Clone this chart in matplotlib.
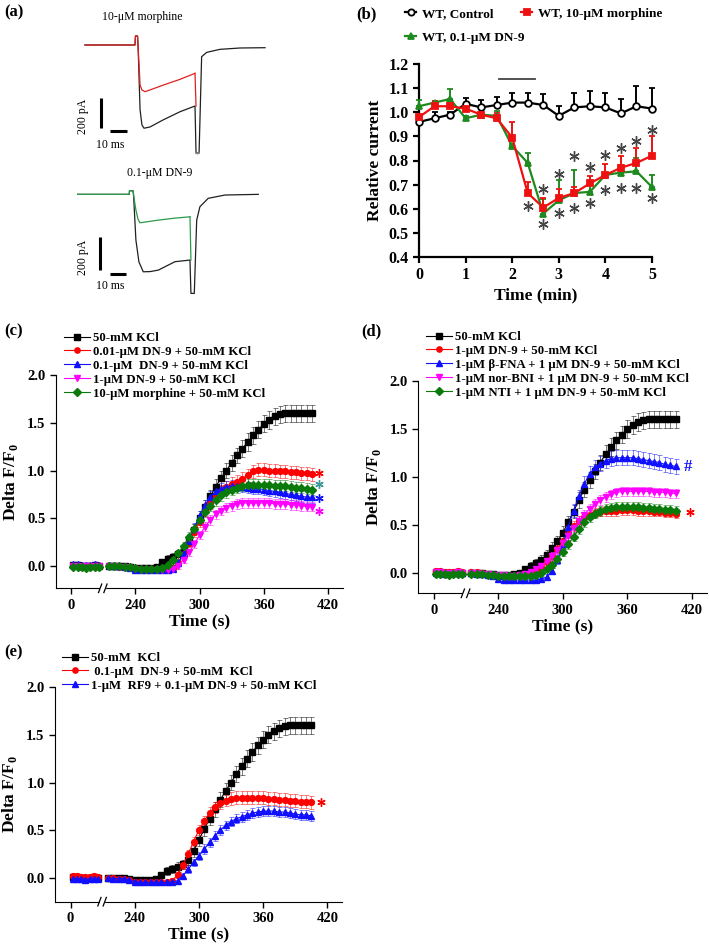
import matplotlib.pyplot as plt
import numpy as np
from matplotlib.lines import Line2D
from matplotlib.patches import Rectangle

plt.rcParams['font.family'] = ['Liberation Serif', 'DejaVu Serif']
plt.rcParams['mathtext.fontset'] = 'custom'
plt.rcParams['mathtext.rm'] = 'Liberation Serif'
plt.rcParams['mathtext.bf'] = 'Liberation Serif:bold'

W, H = 709, 944

# ---------------- (a) current traces: time (ms), current (pA)
morph_black_t = [0, 29.4, 29.7, 30.9, 31.2, 32.4, 33.5, 34.7, 38.2, 45.9, 55.9, 64.7,
                 65.3, 67.1, 68.6, 71.6, 79.4, 91.2, 105.9]
morph_black_i = [0, 0, 60, 60, 0, -433, -533, -555, -547, -500, -445, -407,
                 -720, -720, -78, -49, -29, -20, -18]
morph_red_t = [0, 29.4, 29.7, 30.9, 31.2, 32.4, 33.5, 35.3, 38.2, 46.1, 55.9, 64.7, 65.3]
morph_red_i = [0, 0, 60, 60, 0, -267, -300, -311, -300, -267, -229, -189, -700]

dn9_black_t = [0, 32.25, 32.4, 34.6, 34.9, 36.4, 38.3, 41.0, 45.2, 50.4, 60.8, 70.2,
               70.8, 72.9, 74.4, 76.4, 81.6, 92.1, 112.9]
dn9_black_i = [0, 0, 22, 22, 0, -277, -410, -469, -468, -459, -408, -398,
               -600, -600, -156, -75, -24, -4, 0]
dn9_green_t = [0, 32.25, 32.4, 34.6, 34.9, 36.4, 37.7, 38.9, 42.1, 50.4, 60.8, 70.2, 70.8]
dn9_green_i = [0, 0, 22, 22, 0, -95, -150, -172, -168, -156, -144, -136, -560]

# ---------------- (b) relative current
tb = [0, 0.333, 0.667, 1, 1.333, 1.667, 2, 2.333, 2.667, 3, 3.333, 3.667, 4, 4.333, 4.667, 5]
ctrl = [0.96, 0.975, 0.99, 1.035, 1.02, 1.03, 1.04, 1.04, 1.03, 0.985, 1.02, 1.025, 1.02, 0.995, 1.025, 1.015]
ctrl_err = [0.005, 0.025, 0.01, 0.025, 0.03, 0.035, 0.04, 0.04, 0.045, 0.04, 0.06, 0.065, 0.06, 0.06, 0.085, 0.085]
morph = [0.98, 1.025, 1.025, 1.015, 0.99, 0.975, 0.895, 0.665, 0.605, 0.645, 0.665, 0.705, 0.74, 0.77, 0.79, 0.82]
morph_err = [0.01, 0.02, 0.01, 0.01, 0.01, 0.02, 0.065, 0.045, 0.04, 0.035, 0.025, 0.03, 0.045, 0.05, 0.06, 0.08]
dn9 = [1.025, 1.04, 1.055, 0.975, 0.99, 0.985, 0.86, 0.79, 0.58, 0.635, 0.665, 0.67, 0.74, 0.75, 0.755, 0.69]
dn9_err = [0.025, 0.005, 0.04, 0.01, 0.005, 0.02, 0.01, 0.04, 0.06, 0.085, 0.095, 0.03, 0.01, 0.03, 0.055, 0.05]
star_up_t = [2.667, 3, 3.333, 3.667, 4, 4.333, 4.667, 5]
star_up_y = [0.682, 0.742, 0.82, 0.775, 0.822, 0.853, 0.88, 0.928]
star_dn_t = [2.333, 2.667, 3, 3.333, 3.667, 4, 4.333, 4.667, 5]
star_dn_y = [0.612, 0.536, 0.582, 0.604, 0.625, 0.679, 0.686, 0.687, 0.644]
drug_bar_t = [1.71, 2.49]
drug_bar_y = [1.137, 1.137]

# ---------------- (c)-(e) calcium imaging, time (s)
t_left = np.arange(2, 27, 4)
t_right = np.arange(215, 406, 5)

c_kcl = [0.00, 0.00, 0.00, 0.00, -0.01, -0.02, -0.02, -0.02, -0.02, -0.01,
         0.04, 0.07, 0.09, 0.12, 0.18, 0.27, 0.38, 0.50, 0.62, 0.73,
         0.83, 0.92, 1.00, 1.08, 1.16, 1.23, 1.30, 1.37, 1.43, 1.49,
         1.53, 1.57, 1.59, 1.60, 1.60, 1.60, 1.60, 1.60, 1.60]
c_kcl_err = [0.02, 0.02, 0.02, 0.02, 0.02, 0.02, 0.02, 0.02, 0.02, 0.02,
             0.03, 0.04, 0.04, 0.05, 0.05, 0.06, 0.06, 0.07, 0.07, 0.07,
             0.08, 0.08, 0.08, 0.08, 0.08, 0.09, 0.09, 0.09, 0.09, 0.09,
             0.09, 0.09, 0.09, 0.09, 0.09, 0.09, 0.09, 0.09, 0.09]
c_dn001 = [0.00, 0.00, -0.01, -0.01, -0.01, -0.02, -0.03, -0.03, -0.03, -0.03,
           -0.03, -0.03, -0.02, 0.03, 0.12, 0.24, 0.35, 0.46, 0.57, 0.66,
           0.73, 0.79, 0.83, 0.86, 0.88, 0.91, 0.95, 0.99, 1.01, 1.01,
           1.00, 1.00, 0.99, 0.99, 0.98, 0.98, 0.97, 0.97, 0.96]
c_dn001_err = [0.02, 0.02, 0.02, 0.02, 0.02, 0.02, 0.02, 0.02, 0.02, 0.02,
               0.02, 0.02, 0.03, 0.03, 0.04, 0.04, 0.05, 0.05, 0.05, 0.06,
               0.06, 0.06, 0.06, 0.07, 0.07, 0.07, 0.07, 0.07, 0.07, 0.07,
               0.07, 0.07, 0.07, 0.07, 0.07, 0.07, 0.07, 0.07, 0.07]
c_dn01 = [0.01, 0.00, 0.00, -0.01, -0.02, -0.04, -0.05, -0.05, -0.05, -0.05,
          -0.05, -0.05, -0.03, 0.03, 0.13, 0.26, 0.40, 0.53, 0.64, 0.72,
          0.78, 0.81, 0.83, 0.84, 0.84, 0.83, 0.82, 0.81, 0.81, 0.80,
          0.79, 0.78, 0.77, 0.76, 0.75, 0.74, 0.73, 0.72, 0.72]
c_dn01_err = [0.02, 0.02, 0.02, 0.02, 0.02, 0.02, 0.02, 0.02, 0.02, 0.02,
              0.02, 0.02, 0.03, 0.03, 0.04, 0.04, 0.05, 0.05, 0.05, 0.06,
              0.06, 0.06, 0.06, 0.06, 0.06, 0.06, 0.06, 0.06, 0.06, 0.06,
              0.06, 0.06, 0.06, 0.06, 0.06, 0.06, 0.06, 0.06, 0.06]
c_dn1 = [0.00, 0.00, -0.01, -0.01, -0.02, -0.03, -0.04, -0.04, -0.04, -0.04,
         -0.04, -0.04, -0.03, 0.00, 0.06, 0.14, 0.23, 0.32, 0.41, 0.48,
         0.54, 0.58, 0.61, 0.63, 0.65, 0.66, 0.66, 0.66, 0.66, 0.66,
         0.66, 0.65, 0.65, 0.65, 0.64, 0.64, 0.63, 0.62, 0.62]
c_dn1_err = [0.02, 0.02, 0.02, 0.02, 0.02, 0.02, 0.02, 0.02, 0.02, 0.02,
             0.02, 0.02, 0.02, 0.03, 0.03, 0.04, 0.04, 0.04, 0.05, 0.05,
             0.05, 0.05, 0.05, 0.05, 0.05, 0.05, 0.05, 0.05, 0.05, 0.05,
             0.05, 0.05, 0.05, 0.05, 0.05, 0.05, 0.05, 0.05, 0.05]
c_mor = [0.00, 0.00, 0.00, -0.01, -0.01, -0.02, -0.03, -0.03, -0.03, -0.03,
         -0.02, 0.01, 0.06, 0.13, 0.21, 0.30, 0.39, 0.48, 0.56, 0.63,
         0.69, 0.74, 0.77, 0.80, 0.82, 0.84, 0.85, 0.85, 0.85, 0.85,
         0.85, 0.84, 0.84, 0.84, 0.83, 0.82, 0.82, 0.81, 0.80]
c_mor_err = [0.02, 0.02, 0.02, 0.02, 0.02, 0.02, 0.02, 0.02, 0.02, 0.02,
             0.02, 0.03, 0.03, 0.04, 0.04, 0.05, 0.05, 0.05, 0.05, 0.06,
             0.06, 0.06, 0.06, 0.06, 0.06, 0.06, 0.06, 0.06, 0.06, 0.06,
             0.06, 0.06, 0.06, 0.06, 0.06, 0.06, 0.06, 0.06, 0.06]

d_kcl = [0.00, 0.00, 0.00, -0.01, -0.01, -0.02, -0.02, -0.02, -0.01, 0.00,
         0.04, 0.08, 0.11, 0.14, 0.19, 0.26, 0.33, 0.42, 0.53, 0.64,
         0.76, 0.87, 0.97, 1.06, 1.15, 1.24, 1.31, 1.38, 1.44, 1.50,
         1.54, 1.57, 1.59, 1.60, 1.60, 1.60, 1.60, 1.60, 1.60]
d_dn1 = [0.01, 0.01, 0.00, -0.01, -0.02, -0.03, -0.03, -0.03, -0.03, -0.03,
         -0.02, 0.00, 0.03, 0.07, 0.12, 0.18, 0.25, 0.33, 0.42, 0.49,
         0.54, 0.58, 0.61, 0.63, 0.64, 0.65, 0.65, 0.65, 0.66, 0.66,
         0.66, 0.65, 0.65, 0.65, 0.64, 0.64, 0.63, 0.63, 0.62]
d_fna = [0.00, -0.01, -0.01, -0.02, -0.03, -0.06, -0.07, -0.07, -0.07, -0.07,
         -0.07, -0.07, -0.07, -0.06, -0.04, 0.02, 0.14, 0.30, 0.48, 0.65,
         0.80, 0.93, 1.03, 1.10, 1.14, 1.17, 1.19, 1.20, 1.20, 1.20,
         1.20, 1.19, 1.18, 1.17, 1.16, 1.15, 1.13, 1.12, 1.11]
d_fna_err = [0.02, 0.02, 0.02, 0.02, 0.02, 0.02, 0.02, 0.02, 0.02, 0.02,
             0.02, 0.02, 0.02, 0.02, 0.03, 0.03, 0.04, 0.05, 0.06, 0.07,
             0.07, 0.08, 0.08, 0.08, 0.08, 0.08, 0.08, 0.08, 0.08, 0.08,
             0.08, 0.08, 0.08, 0.08, 0.08, 0.08, 0.08, 0.08, 0.08]
d_bni = [0.00, 0.00, -0.01, -0.01, -0.02, -0.02, -0.02, -0.03, -0.03, -0.02,
         -0.01, 0.01, 0.04, 0.08, 0.13, 0.18, 0.24, 0.31, 0.39, 0.47,
         0.54, 0.61, 0.67, 0.72, 0.76, 0.79, 0.82, 0.84, 0.85, 0.85,
         0.85, 0.85, 0.85, 0.85, 0.84, 0.84, 0.84, 0.83, 0.83]
d_nti = [-0.01, -0.01, -0.01, -0.02, -0.02, -0.03, -0.03, -0.03, -0.03, -0.03,
         -0.03, -0.03, -0.02, 0.00, 0.04, 0.09, 0.15, 0.22, 0.30, 0.38,
         0.46, 0.53, 0.58, 0.62, 0.65, 0.67, 0.68, 0.69, 0.69, 0.69,
         0.69, 0.69, 0.68, 0.68, 0.67, 0.67, 0.66, 0.66, 0.65]

e_kcl = [0.00, 0.00, 0.00, 0.00, -0.01, -0.02, -0.02, -0.02, -0.02, -0.01,
         0.03, 0.07, 0.09, 0.11, 0.14, 0.19, 0.28, 0.40, 0.51, 0.62,
         0.72, 0.82, 0.91, 1.00, 1.09, 1.17, 1.25, 1.32, 1.39, 1.45,
         1.50, 1.54, 1.57, 1.59, 1.60, 1.60, 1.60, 1.60, 1.60]
e_dn01 = [0.00, 0.00, -0.01, -0.01, -0.02, -0.04, -0.05, -0.05, -0.05, -0.05,
          -0.05, -0.05, -0.03, 0.03, 0.13, 0.25, 0.38, 0.50, 0.60, 0.68,
          0.74, 0.78, 0.81, 0.83, 0.84, 0.84, 0.84, 0.84, 0.84, 0.84,
          0.83, 0.83, 0.82, 0.82, 0.81, 0.81, 0.80, 0.80, 0.79]
e_rf9 = [0.00, -0.01, -0.01, -0.01, -0.02, -0.04, -0.05, -0.05, -0.05, -0.05,
         -0.05, -0.05, -0.05, -0.03, 0.02, 0.09, 0.16, 0.23, 0.30, 0.37,
         0.44, 0.50, 0.55, 0.59, 0.62, 0.64, 0.66, 0.68, 0.69, 0.70,
         0.70, 0.70, 0.69, 0.69, 0.68, 0.67, 0.66, 0.66, 0.65]

left_a = [0.01, 0.01, 0.00, 0.00, 0.00, 0.01, 0.00]
left_b = [0.00, 0.00, -0.01, 0.00, 0.00, 0.00, 0.00]
left_c = [0.02, 0.02, 0.01, 0.01, 0.01, 0.02, 0.01]
left_d = [-0.01, -0.01, -0.01, -0.02, -0.01, -0.01, -0.01]
left_err = [0.02, 0.02, 0.02, 0.02, 0.02, 0.02, 0.02]

BLACK, RED, BLUE, MAG, GREEN = 'black', '#ff0000', '#1010ff', '#ff00ff', '#0a7a0a'
SHIFT = 180  # seconds removed by the axis break

fig = plt.figure(figsize=(W / 100, H / 100), dpi=100)


def box(l, t, r, b):
    return [l / W, 1 - b / H, (r - l) / W, (b - t) / H]


def ftext(x, y, s, **kw):
    fig.text(x / W, 1 - y / H, s, **kw)


# ---------------- panel (a)
ax = fig.add_axes(box(70, 30, 270, 160))
ax.set_xlim(-8.8, 108.8)
ax.set_ylim(-767, 100)
ax.axis('off')
ax.plot(morph_black_t, morph_black_i, color='#202020', lw=0.9)
ax.plot(morph_red_t[:12], morph_red_i[:12], color='#e02020', lw=0.9)
ax.plot([64.7, 65.3], [-189, -407], color='#e02020', lw=0.9)
ax.plot([65.3, 66.2, 67.1], [-720, -725, -720], color='#888888', lw=1.2)
ax.plot([9.4, 9.4], [-353, -553], color='black', lw=2.2, solid_capstyle='butt')
ax.plot([14.7, 24.7], [-573, -573], color='black', lw=2.2, solid_capstyle='butt')
ax.text(-1.2, -473, '200 pA', rotation=90, ha='center', va='center', fontsize=8.5)
ax.text(15, -667, '10 ms', ha='center', va='center', fontsize=8.5)
ax.text(33.5, 187, '10-μM morphine', ha='center', va='center', fontsize=8.5)

ax = fig.add_axes(box(70, 180, 265, 300))
ax.set_xlim(-4.8, 117.1)
ax.set_ylim(-640, 87)
ax.axis('off')
ax.plot(dn9_black_t, dn9_black_i, color='#202020', lw=0.9)
ax.plot(dn9_green_t[:12], dn9_green_i[:12], color='#2a9a4a', lw=0.9)
ax.plot([70.2, 70.8], [-136, -398], color='#2a9a4a', lw=0.9)
ax.plot([13.9, 13.9], [-259, -459], color='black', lw=2.2, solid_capstyle='butt')
ax.plot([20.2, 30.2], [-483, -483], color='black', lw=2.2, solid_capstyle='butt')
ax.text(3.3, -380, '200 pA', rotation=90, ha='center', va='center', fontsize=8.5)
ax.text(20.5, -556, '10 ms', ha='center', va='center', fontsize=8.5)
ax.text(51.4, 129, '0.1-μM DN-9', ha='center', va='center', fontsize=8.5)

# ---------------- panel (b)
ax = fig.add_axes(box(419, 64, 652, 257))
star = (6, 2, 0)
for y, err, c, m, mfc, lab in [
        (ctrl, ctrl_err, 'black', 'o', 'white', 'WT, Control'),
        (dn9, dn9_err, '#1f8a1f', '^', '#1f8a1f', 'WT, 0.1-μM DN-9'),
        (morph, morph_err, '#ee1111', 's', '#ee1111', 'WT, 10-μM morphine')]:
    ax.errorbar(tb, y, yerr=[np.zeros(len(err)), err], color=c, lw=1.6,
                marker=m, ms=4.8, mfc=mfc, mec=c, mew=1.3, capsize=2.5,
                elinewidth=1.4, capthick=1.4, clip_on=False, zorder=3)
ax.plot(star_up_t, star_up_y, ls='none', marker=star, ms=7.5, mew=1.0,
        color='#454545', clip_on=False)
ax.plot(star_dn_t, star_dn_y, ls='none', marker=star, ms=7.5, mew=1.0,
        color='#454545', clip_on=False)
ax.plot(drug_bar_t, drug_bar_y, color='#444444', lw=1.3)
ax.set_xlim(0, 5)
ax.set_ylim(0.4, 1.2)
ax.set_xticks([0, 1, 2, 3, 4, 5])
ax.set_yticks(np.round(np.arange(0.4, 1.21, 0.1), 1))
ax.set_yticklabels(['%.1f' % v for v in ax.get_yticks()])
for s in ['top', 'right']:
    ax.spines[s].set_visible(False)
for s in ['left', 'bottom']:
    ax.spines[s].set_linewidth(1.6)
ax.tick_params(width=1.6, length=4, labelsize=11.5)
for lab in ax.get_xticklabels() + ax.get_yticklabels():
    lab.set_fontweight('bold')
ax.set_xlabel('Time (min)', fontsize=12.5, fontweight='bold', labelpad=3)
ax.set_ylabel('Relative current', fontsize=12.5, fontweight='bold', labelpad=4)

b_leg = [('WT, Control', 'black', 'o', 'white', 405, 14),
         ('WT, 10-μM morphine', '#ee1111', 's', '#ee1111', 521, 14),
         ('WT, 0.1-μM DN-9', '#1f8a1f', '^', '#1f8a1f', 405, 38)]
for lab, c, m, mfc, x, y in b_leg:
    h = Line2D([], [], color=c, marker=m, mfc=mfc, mec=c, mew=1.3, ms=4.5, lw=1.6)
    fig.legend([h], [lab], loc='center left', bbox_to_anchor=(x / W, 1 - y / H),
               frameon=False, borderpad=0, borderaxespad=0, handlelength=0.85,
               handletextpad=0.45, prop={'weight': 'bold', 'size': 9.5})


# ---------------- panels (c)-(e)
def kcl_panel(rect, ylim, series, leg_xy):
    ax = fig.add_axes(rect)
    handles, labels = [], []
    for lab, c, m, yl, yr, err in series:
        ax.errorbar(t_left, yl, yerr=left_err, color=c, marker=m, ms=4.2, lw=0.8,
                    elinewidth=0.6, capsize=1.8, capthick=0.6, ecolor=c)
        eb = ax.errorbar(t_right - SHIFT, yr, yerr=err, color=c, marker=m, ms=4.2,
                         lw=0.8, elinewidth=0.6, capsize=1.8, capthick=0.6)
        for art in eb[1] + eb[2]:
            art.set_alpha(0.6)
        handles.append(Line2D([], [], color=c, marker=m, ms=3.8, lw=0.8))
        labels.append(lab)
    ax.set_xlim(-14.5, 254)
    ax.set_ylim(*ylim)
    ax.set_xticks([0, 60, 120, 180, 240])
    ax.set_xticklabels(['0', '240', '300', '360', '420'])
    ax.set_yticks([0, 0.5, 1.0, 1.5, 2.0])
    ax.set_yticklabels(['0.0', '0.5', '1.0', '1.5', '2.0'])
    for s in ['top', 'right']:
        ax.spines[s].set_visible(False)
    ax.spines['left'].set_bounds(ylim[0], 2.0)
    ax.tick_params(width=1.0, length=4, labelsize=10.5)
    for t in ax.get_xticklabels() + ax.get_yticklabels():
        t.set_fontweight('bold')
    ax.set_xlabel('Time (s)', fontsize=12.5, fontweight='bold', labelpad=1)
    ax.set_ylabel(r'Delta F/F$_\mathbf{0}$', fontsize=12.5, fontweight='bold', labelpad=5)
    tr = ax.get_xaxis_transform()
    ax.add_patch(Rectangle((27.3, -0.02), 4.4, 0.04, transform=tr, color='white',
                           clip_on=False, zorder=5))
    for p in (27, 32):
        ax.plot([p - 1.5, p + 1.5], [-0.02, 0.02], transform=tr, color='black',
                lw=0.9, clip_on=False, zorder=6)
    fig.legend(handles, labels, loc='upper left',
               bbox_to_anchor=(leg_xy[0] / W, 1 - leg_xy[1] / H), frameon=False,
               borderpad=0, borderaxespad=0, handlelength=2.0, handletextpad=0.3,
               labelspacing=0.15, prop={'weight': 'bold', 'size': 9.2})
    return ax


ax = kcl_panel(box(55.7, 375.3, 343, 588.3), (-0.237, 2.0), [
    ('50-mM KCl', BLACK, 's', left_a, c_kcl, c_kcl_err),
    ('0.01-μM DN-9 + 50-mM KCl', RED, 'o', left_b, c_dn001, c_dn001_err),
    ('0.1-μM  DN-9 + 50-mM KCl', BLUE, '^', left_c, c_dn01, c_dn01_err),
    ('1-μM DN-9 + 50-mM KCl', MAG, 'v', left_b, c_dn1, c_dn1_err),
    ('10-μM morphine + 50-mM KCl', GREEN, 'D', left_d, c_mor, c_mor_err)],
    (64, 332))
for y, c in [(0.97, RED), (0.86, '#3a9a9a'), (0.71, BLUE), (0.58, MAG)]:
    ax.plot([412 - SHIFT], [y], marker=star, ms=6, mew=1.0, color=c, ls='none',
            clip_on=False)

ax = kcl_panel(box(418.3, 380.7, 706.7, 593.3), (-0.208, 2.0), [
    ('50-mM KCl', BLACK, 's', left_a, d_kcl, c_kcl_err),
    ('1-μM DN-9 + 50-mM KCl', RED, 'o', left_c, d_dn1, c_dn1_err),
    ('1-μM β-FNA + 1 μM DN-9 + 50-mM KCl', BLUE, '^', left_b, d_fna, d_fna_err),
    ('1-μM nor-BNI + 1 μM DN-9 + 50-mM KCl', MAG, 'v', left_a, d_bni, c_dn1_err),
    ('1-μM NTI + 1 μM DN-9 + 50-mM KCl', GREEN, 'D', left_d, d_nti, c_dn1_err)],
    (426, 331))
ax.text(413 - SHIFT, 1.10, '#', color=BLUE, fontsize=12, ha='left', va='center',
        fontweight='bold')
ax.plot([418 - SHIFT], [0.64], marker=star, ms=6, mew=1.0, color=RED, ls='none',
        clip_on=False)

ax = kcl_panel(box(55, 687.3, 342.3, 901.7), (-0.252, 2.0), [
    ('50-mM  KCl', BLACK, 's', left_a, e_kcl, c_kcl_err),
    (' 0.1-μM  DN-9 + 50-mM  KCl', RED, 'o', left_c, e_dn01, c_dn001_err),
    ('1-μM  RF9 + 0.1-μM DN-9 + 50-mM KCl', BLUE, '^', left_d, e_rf9, c_dn1_err)],
    (62, 652))
ax.plot([414 - SHIFT], [0.79], marker=star, ms=6, mew=1.0, color=RED, ls='none',
        clip_on=False)

# panel letters
for s, x, y in [('(a)', 4, 12), ('(b)', 356, 14), ('(c)', 4, 331),
                ('(d)', 361, 331), ('(e)', 4, 652)]:
    ftext(x, y, s, fontsize=12, fontweight='bold', va='center')

fig.savefig('out.png', dpi=100)
